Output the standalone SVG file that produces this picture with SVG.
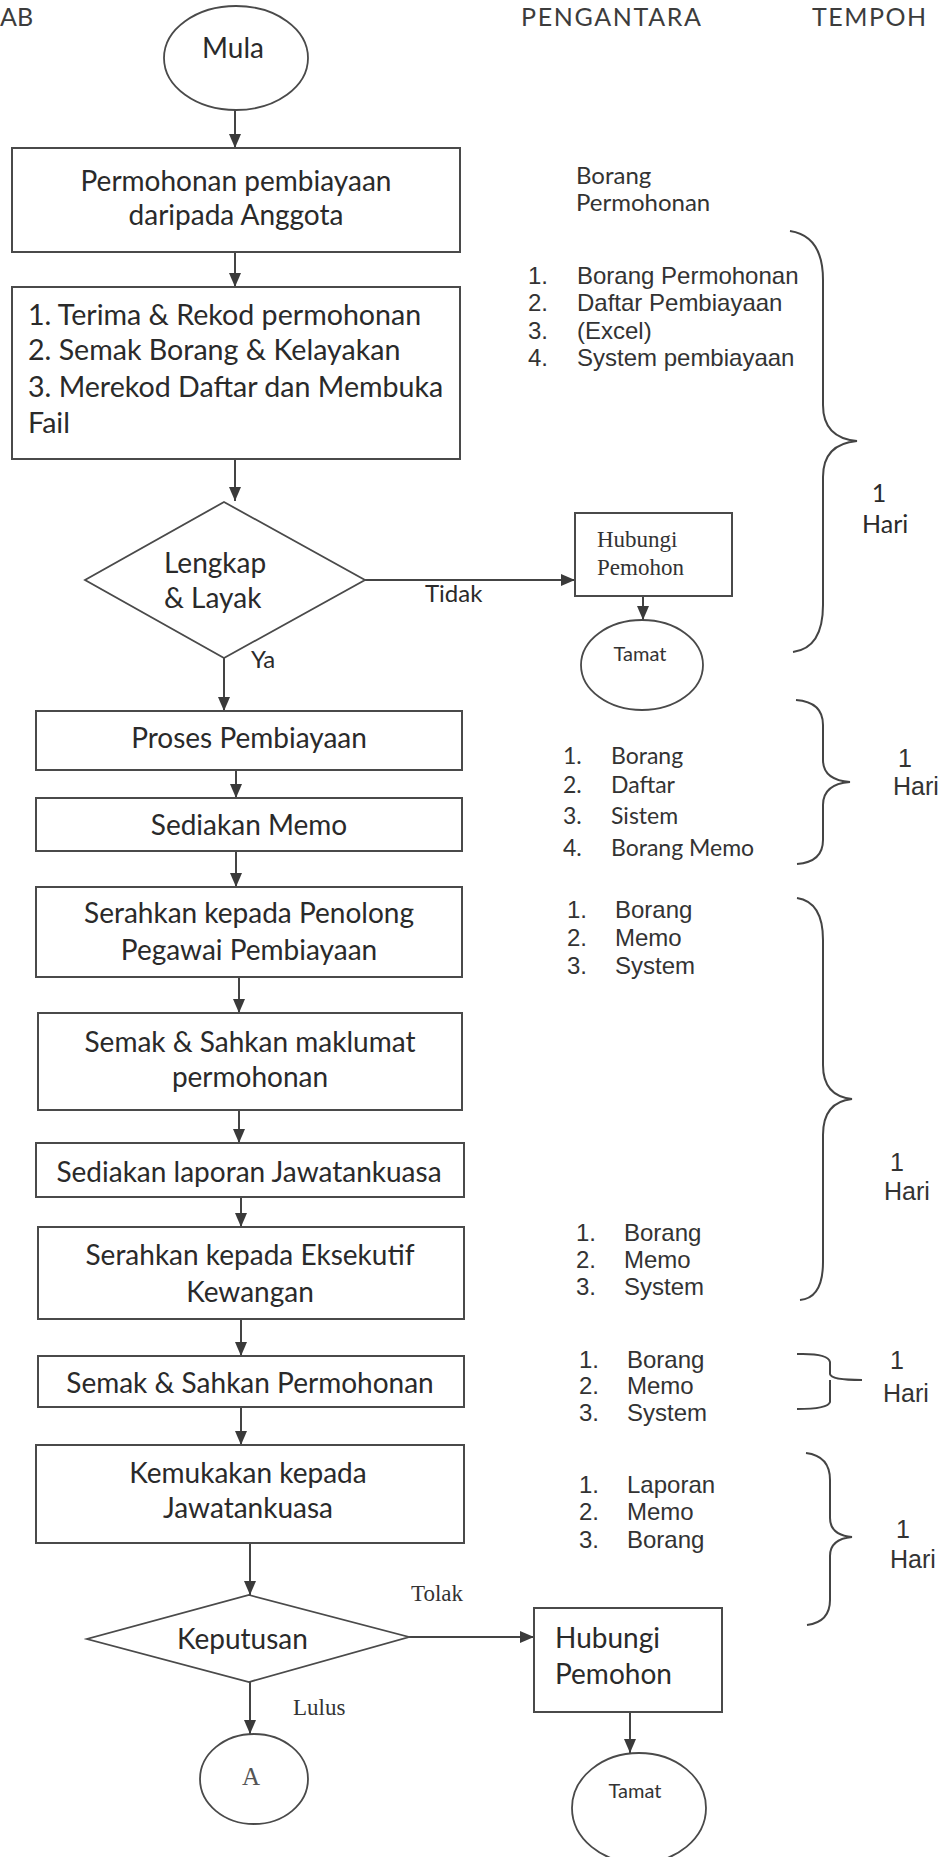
<svg xmlns="http://www.w3.org/2000/svg" width="945" height="1857" viewBox="0 0 945 1857">
<style>
.bg{fill:#ffffff}
.box{fill:#ffffff;stroke:#4a4a4a;stroke-width:2}
.shape{fill:#ffffff;stroke:#4a4a4a;stroke-width:1.8}
.t{font-family:Lato,"Open Sans","Liberation Sans",sans-serif;font-size:28px;fill:#2a2a2a}
.m{text-anchor:middle}
.hd{font-family:Lato,"Open Sans","Liberation Sans",sans-serif;font-size:25px;fill:#3c3c3c}
.ar{font-family:"Liberation Sans",Arial,sans-serif;font-size:24px;fill:#333333}
.cl{font-family:Lato,"Open Sans","Liberation Sans",sans-serif;font-size:23px;fill:#333333}
.tm{font-family:"Liberation Serif","Times New Roman",serif;font-size:23px;fill:#333333}
.sm{font-family:Lato,"Open Sans","Liberation Sans",sans-serif;font-size:20px;fill:#333333}
.conn{stroke:#444444;stroke-width:2;fill:none;marker-end:url(#ah)}
.brace{stroke:#444444;stroke-width:2;fill:none}
</style>
<defs>
<marker id="ah" markerUnits="userSpaceOnUse" viewBox="0 0 14 12" markerWidth="14" markerHeight="12" refX="14" refY="6" orient="auto">
<path d="M0,0 L14,6 L0,12 z" fill="#3a3a3a"/>
</marker>
</defs>
<rect class="bg" x="0" y="0" width="945" height="1857"/>

<g id="headers">
<text class="hd" x="0" y="26">AB</text>
<text class="hd" x="521" y="26" textLength="180">PENGANTARA</text>
<text class="hd" x="812" y="26" textLength="114">TEMPOH</text>
</g>

<g id="connectors">
<line class="conn" x1="235" y1="110" x2="235" y2="148"/>
<line class="conn" x1="235" y1="252" x2="235" y2="287"/>
<line class="conn" x1="235" y1="459" x2="235" y2="501"/>
<line class="conn" x1="224" y1="658" x2="224" y2="711"/>
<line class="conn" x1="365" y1="580" x2="575" y2="580"/>
<line class="conn" x1="643" y1="596" x2="643" y2="620"/>
<line class="conn" x1="236" y1="770" x2="236" y2="798"/>
<line class="conn" x1="236" y1="851" x2="236" y2="887"/>
<line class="conn" x1="239" y1="977" x2="239" y2="1013"/>
<line class="conn" x1="239" y1="1110" x2="239" y2="1143"/>
<line class="conn" x1="241" y1="1197" x2="241" y2="1227"/>
<line class="conn" x1="241" y1="1319" x2="241" y2="1356"/>
<line class="conn" x1="241" y1="1407" x2="241" y2="1445"/>
<line class="conn" x1="250" y1="1543" x2="250" y2="1595"/>
<line class="conn" x1="409" y1="1637" x2="534" y2="1637"/>
<line class="conn" x1="250" y1="1682" x2="250" y2="1734"/>
<line class="conn" x1="630" y1="1712" x2="630" y2="1753"/>
<text class="t" x="251" y="668" style="font-size:24px">Ya</text>
<text class="t" x="425" y="602" style="font-size:24px">Tidak</text>
<text class="tm" x="411" y="1601">Tolak</text>
<text class="tm" x="293" y="1715">Lulus</text>
</g>

<g id="n-mula">
<ellipse class="shape" cx="236" cy="58" rx="72" ry="52"/>
<text class="t m" x="233" y="58">Mula</text>
</g>

<g id="n-permohonan">
<rect class="box" x="12" y="148" width="448" height="104"/>
<text class="t m" x="236" y="191">Permohonan pembiayaan</text>
<text class="t m" x="236" y="225">daripada Anggota</text>
</g>

<g id="n-terima">
<rect class="box" x="12" y="287" width="448" height="172"/>
<text class="t" x="28" y="325" style="font-size:28.6px">1. Terima &amp; Rekod permohonan</text>
<text class="t" x="28" y="360" style="font-size:28.6px">2. Semak Borang &amp; Kelayakan</text>
<text class="t" x="28" y="397" style="font-size:28.6px">3. Merekod Daftar dan Membuka</text>
<text class="t" x="28" y="433" style="font-size:28.6px">Fail</text>
</g>

<g id="n-lengkap">
<polygon class="shape" points="224,502 365,580 224,658 85,580"/>
<text class="t" x="164" y="573">Lengkap</text>
<text class="t" x="164" y="608">&amp; Layak</text>
</g>

<g id="n-hubungi1">
<rect class="box" x="575" y="513" width="157" height="83"/>
<text class="tm" x="597" y="547">Hubungi</text>
<text class="tm" x="597" y="575">Pemohon</text>
</g>

<g id="n-tamat1">
<ellipse class="shape" cx="642" cy="665" rx="61" ry="45"/>
<text class="sm m" x="640" y="661">Tamat</text>
</g>

<g id="n-proses">
<rect class="box" x="36" y="711" width="426" height="59"/>
<text class="t m" x="249" y="748">Proses Pembiayaan</text>
</g>

<g id="n-memo">
<rect class="box" x="36" y="798" width="426" height="53"/>
<text class="t m" x="249" y="835">Sediakan Memo</text>
</g>

<g id="n-penolong">
<rect class="box" x="36" y="887" width="426" height="90"/>
<text class="t m" x="249" y="923">Serahkan kepada Penolong</text>
<text class="t m" x="249" y="960">Pegawai Pembiayaan</text>
</g>

<g id="n-semak1">
<rect class="box" x="38" y="1013" width="424" height="97"/>
<text class="t m" x="250" y="1052">Semak &amp; Sahkan maklumat</text>
<text class="t m" x="250" y="1087">permohonan</text>
</g>

<g id="n-laporan">
<rect class="box" x="36" y="1143" width="428" height="54"/>
<text class="t m" x="249" y="1182">Sediakan laporan Jawatankuasa</text>
</g>

<g id="n-eksekutif">
<rect class="box" x="38" y="1227" width="426" height="92"/>
<text class="t m" x="250" y="1265">Serahkan kepada Eksekutif</text>
<text class="t m" x="250" y="1302">Kewangan</text>
</g>

<g id="n-semak2">
<rect class="box" x="38" y="1356" width="426" height="51"/>
<text class="t m" x="250" y="1393">Semak &amp; Sahkan Permohonan</text>
</g>

<g id="n-kemukakan">
<rect class="box" x="36" y="1445" width="428" height="98"/>
<text class="t m" x="248" y="1483">Kemukakan kepada</text>
<text class="t m" x="248" y="1518">Jawatankuasa</text>
</g>

<g id="n-keputusan">
<polygon class="shape" points="249,1595 409,1637 249,1682 87,1639"/>
<text class="t" x="177" y="1649">Keputusan</text>
</g>

<g id="n-hubungi2">
<rect class="box" x="534" y="1608" width="188" height="104"/>
<text class="t" x="555" y="1648">Hubungi</text>
<text class="t" x="555" y="1684">Pemohon</text>
</g>

<g id="n-a">
<ellipse class="shape" cx="254" cy="1779" rx="54" ry="45"/>
<text class="tm m" x="251" y="1785" style="font-size:25px;fill:#555555">A</text>
</g>

<g id="n-tamat2">
<ellipse class="shape" cx="639" cy="1808" rx="67" ry="55"/>
<text class="sm m" x="635" y="1798">Tamat</text>
</g>

<g id="pengantara">
<text class="cl" x="576" y="184" style="font-size:24px">Borang</text>
<text class="cl" x="576" y="211" style="font-size:24px">Permohonan</text>

<text class="ar" x="528" y="284">1.</text><text class="ar" x="577" y="284">Borang Permohonan</text>
<text class="ar" x="528" y="311">2.</text><text class="ar" x="577" y="311">Daftar Pembiayaan</text>
<text class="ar" x="528" y="339">3.</text><text class="ar" x="577" y="339">(Excel)</text>
<text class="ar" x="528" y="366">4.</text><text class="ar" x="577" y="366">System pembiayaan</text>

<text class="cl" x="563" y="764">1.</text><text class="cl" x="611" y="764">Borang</text>
<text class="cl" x="563" y="793">2.</text><text class="cl" x="611" y="793">Daftar</text>
<text class="cl" x="563" y="824">3.</text><text class="cl" x="611" y="824">Sistem</text>
<text class="cl" x="563" y="856">4.</text><text class="cl" x="611" y="856">Borang Memo</text>

<text class="ar" x="567" y="918">1.</text><text class="ar" x="615" y="918">Borang</text>
<text class="ar" x="567" y="946">2.</text><text class="ar" x="615" y="946">Memo</text>
<text class="ar" x="567" y="974">3.</text><text class="ar" x="615" y="974">System</text>

<text class="ar" x="576" y="1241">1.</text><text class="ar" x="624" y="1241">Borang</text>
<text class="ar" x="576" y="1268">2.</text><text class="ar" x="624" y="1268">Memo</text>
<text class="ar" x="576" y="1295">3.</text><text class="ar" x="624" y="1295">System</text>

<text class="ar" x="579" y="1368">1.</text><text class="ar" x="627" y="1368">Borang</text>
<text class="ar" x="579" y="1394">2.</text><text class="ar" x="627" y="1394">Memo</text>
<text class="ar" x="579" y="1421">3.</text><text class="ar" x="627" y="1421">System</text>

<text class="ar" x="579" y="1493">1.</text><text class="ar" x="627" y="1493">Laporan</text>
<text class="ar" x="579" y="1520">2.</text><text class="ar" x="627" y="1520">Memo</text>
<text class="ar" x="579" y="1548">3.</text><text class="ar" x="627" y="1548">Borang</text>
</g>

<g id="tempoh">
<path class="brace" d="M790,231 Q823,236 823,280 L823,405 Q823,438 857,441 Q823,444 823,477 L823,605 Q823,648 793,652"/>
<text class="t m" x="879" y="502" style="font-size:25px">1</text>
<text class="t" x="862" y="533" style="font-size:25px">Hari</text>

<path class="brace" d="M796,700 Q823,702 823,725 L823,760 Q823,780 850,782 Q823,784 823,805 L823,840 Q823,862 797,864"/>
<text class="ar m" x="905" y="767" style="font-size:25px">1</text>
<text class="ar" x="893" y="795" style="font-size:25px">Hari</text>

<path class="brace" d="M797,898 Q823,902 823,940 L823,1065 Q823,1096 852,1099 Q823,1102 823,1135 L823,1262 Q823,1298 800,1300"/>
<text class="ar m" x="897" y="1171" style="font-size:25px">1</text>
<text class="ar" x="884" y="1200" style="font-size:25px">Hari</text>

<path class="brace" d="M797,1354 Q828,1353 830,1362 L830,1374 Q831,1380 862,1380 M830,1380 Q830,1380 830,1388 L830,1402 Q828,1409 797,1409"/>
<text class="ar m" x="897" y="1369" style="font-size:25px">1</text>
<text class="ar" x="883" y="1402" style="font-size:25px">Hari</text>

<path class="brace" d="M806,1453 Q830,1456 830,1480 L830,1518 Q830,1535 852,1537 Q830,1539 830,1556 L830,1600 Q830,1622 807,1625"/>
<text class="ar m" x="903" y="1538" style="font-size:25px">1</text>
<text class="ar" x="890" y="1568" style="font-size:25px">Hari</text>
</g>
</svg>
